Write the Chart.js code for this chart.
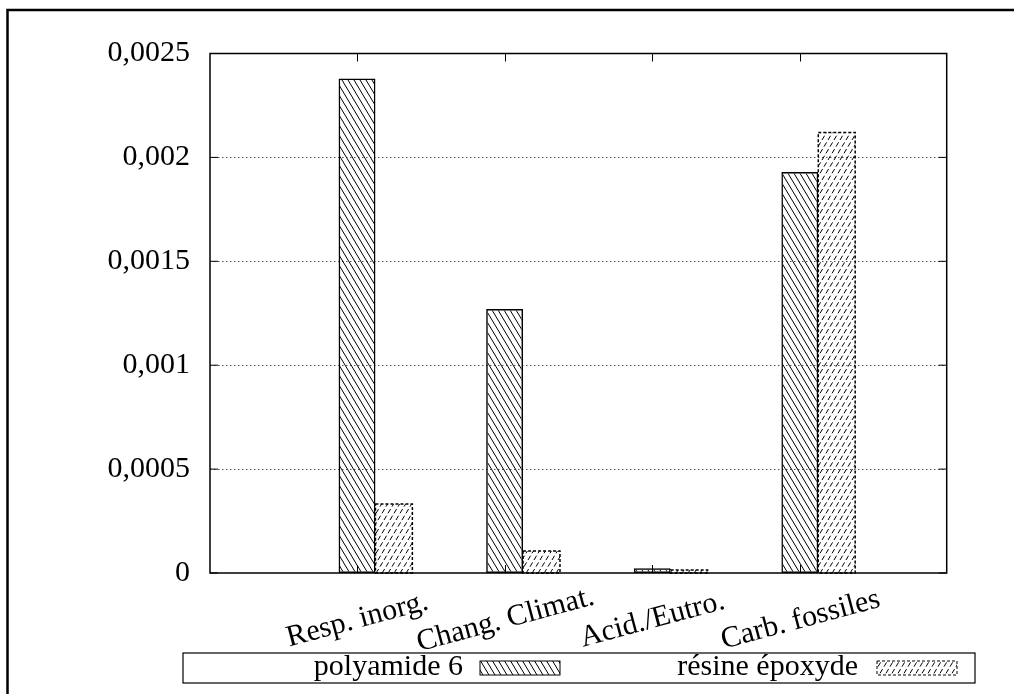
<!DOCTYPE html>
<html>
<head>
<meta charset="utf-8">
<script src="https://cdn.jsdelivr.net/npm/chart.js@4"></script>
<style>
  html, body { margin: 0; padding: 0; background: #fff; }
  #wrap { width: 1014px; height: 694px; position: relative; }
</style>
</head>
<body>
<div id="wrap"><canvas id="c" width="1014" height="694"></canvas></div>
<script>
// ---- data ----
const categories = ['Resp. inorg.', 'Chang. Climat.', 'Acid./Eutro.', 'Carb. fossiles'];
const polyamide = [0.00238, 0.00127, 0.000023, 0.00193];
const resine = [0.000332, 0.000106, 0.000015, 0.00212];
const seriesNames = ['polyamide 6', 'résine époxyde'];
const yTickValues = [0, 0.0005, 0.001, 0.0015, 0.002, 0.0025];
const yTickLabels = ['0', '0,0005', '0,001', '0,0015', '0,002', '0,0025'];

const FONT = "'Liberation Serif', serif";
const FS = 30;

function makePattern(dashed) {
  const c = document.createElement('canvas');
  c.width = 12; c.height = 20;
  const g = c.getContext('2d');
  g.strokeStyle = '#000';
  g.lineWidth = 1;
  g.lineCap = 'butt';
  if (dashed) g.setLineDash([5, 23.3238 / 3 - 5]);
  for (let k = -3; k <= 3; k++) {
    g.beginPath();
    if (dashed) { g.moveTo(k * 6, 20); g.lineTo(k * 6 + 12, 0); }
    else { g.moveTo(k * 6, 0); g.lineTo(k * 6 + 12, 20); }
    g.stroke();
  }
  return g.createPattern(c, 'repeat');
}
const patPoly = makePattern(false);
const patRes = makePattern(true);

const xMin = -1.121, xMax = 3.870;
const groupShift = 0.125; // tick sits at centre of first bar of each group

const deco = {
  id: 'deco',
  beforeDatasetsDraw(chart) {
    const { ctx, chartArea: a } = chart;
    const y = chart.scales.y;
    ctx.save();
    ctx.strokeStyle = '#555';
    ctx.lineWidth = 1;
    ctx.setLineDash([1.5, 2.5]);
    yTickValues.forEach((v, i) => {
      if (i === 0 || i === yTickValues.length - 1) return;
      const py = Math.round(y.getPixelForValue(v)) + 0.5;
      ctx.beginPath(); ctx.moveTo(a.left, py); ctx.lineTo(a.right, py); ctx.stroke();
    });
    ctx.restore();
  },
  afterDatasetsDraw(chart) {
    const { ctx } = chart;
    const meta = chart.getDatasetMeta(1);
    ctx.save();
    ctx.strokeStyle = '#000';
    ctx.lineWidth = 1.5;
    ctx.setLineDash([3, 2]);
    meta.data.forEach(b => {
      const p = b.getProps(['x', 'y', 'base', 'width'], true);
      ctx.strokeRect(p.x - p.width / 2, p.y, p.width, p.base - p.y);
    });
    ctx.restore();
  },
  afterDraw(chart) {
    const { ctx, chartArea: a } = chart;
    const x = chart.scales.x, y = chart.scales.y;
    ctx.save();
    ctx.strokeStyle = '#000';
    ctx.setLineDash([]);
    // plot frame
    ctx.lineWidth = 1.5;
    ctx.strokeRect(a.left, a.top, a.right - a.left, a.bottom - a.top);
    // tick marks
    ctx.lineWidth = 1;
    const tl = 8;
    yTickValues.forEach(v => {
      const py = y.getPixelForValue(v);
      ctx.beginPath();
      ctx.moveTo(a.left, py); ctx.lineTo(a.left + tl, py);
      ctx.moveTo(a.right, py); ctx.lineTo(a.right - tl, py);
      ctx.stroke();
    });
    ctx.font = FS + 'px ' + FONT;
    ctx.fillStyle = '#000';
    categories.forEach((c, i) => {
      const px = Math.round(x.getPixelForValue(i - groupShift)) + 0.5;
      ctx.beginPath();
      ctx.moveTo(px, a.bottom); ctx.lineTo(px, a.bottom - tl);
      ctx.moveTo(px, a.top); ctx.lineTo(px, a.top + tl);
      ctx.stroke();
      // rotated, centred category label
      ctx.save();
      ctx.translate(px, a.bottom + 47);
      ctx.rotate(-15 * Math.PI / 180);
      ctx.textAlign = 'center';
      ctx.textBaseline = 'middle';
      ctx.fillText(c, 0, 0);
      ctx.restore();
    });
    // outer frame
    ctx.lineWidth = 2.5;
    ctx.beginPath();
    ctx.moveTo(7.5, 694); ctx.lineTo(7.5, 10); ctx.lineTo(1014, 10);
    ctx.stroke();
    // legend
    const L = { left: 183, top: 653, right: 975, bottom: 683 };
    ctx.lineWidth = 1.2;
    ctx.strokeRect(L.left, L.top, L.right - L.left, L.bottom - L.top);
    ctx.textAlign = 'right';
    ctx.textBaseline = 'alphabetic';
    const items = [
      { textRight: 463, sw: 480, pat: patPoly, dashed: false },
      { textRight: 858, sw: 877, pat: patRes, dashed: true }
    ];
    items.forEach((it, i) => {
      ctx.fillStyle = '#000';
      ctx.fillText(seriesNames[i], it.textRight, 675);
      ctx.fillStyle = it.pat;
      ctx.fillRect(it.sw, 661, 80, 14);
      ctx.lineWidth = 1;
      ctx.setLineDash(it.dashed ? [3, 2] : []);
      ctx.strokeRect(it.sw, 661, 80, 14);
      ctx.setLineDash([]);
    });
    ctx.restore();
  }
};

new Chart(document.getElementById('c'), {
  type: 'bar',
  data: {
    datasets: [
      {
        label: seriesNames[0],
        data: polyamide.map((v, i) => ({ x: i, y: v })),
        backgroundColor: patPoly,
        borderColor: '#000',
        borderWidth: 1.5,
        borderSkipped: false
      },
      {
        label: seriesNames[1],
        data: resine.map((v, i) => ({ x: i, y: v })),
        backgroundColor: patRes,
        borderWidth: 0
      }
    ]
  },
  options: {
    responsive: false,
    animation: false,
    devicePixelRatio: 1,
    categoryPercentage: 0.5,
    barPercentage: 1.0,
    layout: { padding: { top: 53.5, right: 67.3, left: 0, bottom: 0 } },
    plugins: { legend: { display: false }, tooltip: { enabled: false } },
    scales: {
      x: {
        type: 'linear',
        offset: false,
        min: xMin,
        max: xMax,
        grid: { display: false, drawTicks: false },
        border: { display: false },
        afterBuildTicks(s) { s.ticks = categories.map((c, i) => ({ value: i - groupShift })); },
        afterFit(s) { s.height = 121; },
        ticks: { display: false }
      },
      y: {
        min: 0,
        max: 0.0025,
        offset: false,
        grid: { display: false, drawTicks: false },
        border: { display: false },
        afterBuildTicks(s) { s.ticks = yTickValues.map(v => ({ value: v })); },
        afterFit(s) { s.width = 210; },
        ticks: {
          padding: 20,
          color: '#000',
          font: { family: FONT, size: FS },
          callback: (v, i) => yTickLabels[i]
        }
      }
    }
  },
  plugins: [deco]
});
</script>
</body>
</html>
